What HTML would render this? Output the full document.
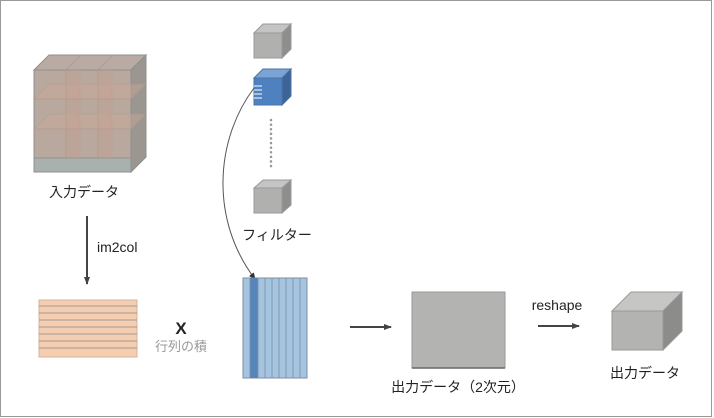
<!DOCTYPE html>
<html><head><meta charset="utf-8"><style>
html,body{margin:0;padding:0;background:#fff}
svg{display:block}
text{font-family:"Liberation Sans","Noto Sans CJK JP",sans-serif;fill:#222}
</style></head><body>
<svg width="714" height="418" viewBox="0 0 714 418">
<defs>
<marker id="ah" markerWidth="8" markerHeight="8" refX="7" refY="4" orient="auto" markerUnits="userSpaceOnUse"><path d="M0,1 L8,4 L0,7 Z" fill="#444"/></marker>
<marker id="ah2" markerWidth="7" markerHeight="7" refX="6" refY="3.5" orient="auto" markerUnits="userSpaceOnUse"><path d="M0,0.5 L7,3.5 L0,6.5 Z" fill="#333"/></marker>
</defs>
<rect x="0.5" y="0.5" width="711" height="416" fill="#fff" stroke="#999"/>

<g>
<polygon points="34,70 49,55 146,55 131,70" fill="#b9aba3" stroke="#8f8f8f"/>
<polygon points="131,70 146,55 146,157 131,172" fill="#9c9690" stroke="#8f8f8f"/>
<rect x="34" y="70" width="97" height="102" fill="#b8a89e" stroke="#8f8f8f"/>
<rect x="34" y="158" width="97" height="14" fill="#a9b1ae" stroke="#8f8f8f"/>
<g stroke="#b49a8e" fill="none" opacity="0.9">
<line x1="66" y1="70" x2="66" y2="158"/><line x1="98" y1="70" x2="98" y2="158"/>
<line x1="34" y1="99" x2="131" y2="99"/><line x1="34" y1="129" x2="131" y2="129"/>
<line x1="81" y1="55" x2="66" y2="70"/><line x1="113" y1="55" x2="98" y2="70"/>
<polygon points="34,99 49,84 146,84 131,99" fill="#c9a898" opacity="0.5"/>
<polygon points="34,129 49,114 146,114 131,129" fill="#c9a898" opacity="0.5"/>
<rect x="66" y="70" width="14" height="88" fill="#c79f8c" opacity="0.35"/>
<rect x="98" y="70" width="14" height="88" fill="#c79f8c" opacity="0.35"/>
</g>
</g>
<text x="84" y="197" font-size="14" text-anchor="middle">入力データ</text>

<line x1="87" y1="216" x2="87" y2="284" stroke="#444" stroke-width="2" marker-end="url(#ah)"/>
<text x="97" y="252" font-size="14">im2col</text>

<g>
<rect x="39" y="300" width="98" height="57" fill="#f5cdb1" stroke="#d7b39a"/>
<g stroke="#8a8a8a" stroke-width="0.8">
<line x1="39" y1="306" x2="137" y2="306"/><line x1="39" y1="313" x2="137" y2="313"/><line x1="39" y1="320" x2="137" y2="320"/><line x1="39" y1="327" x2="137" y2="327"/><line x1="39" y1="334" x2="137" y2="334"/><line x1="39" y1="341" x2="137" y2="341"/><line x1="39" y1="348" x2="137" y2="348"/>
</g></g>
<text x="181" y="334" font-size="17" font-weight="bold" text-anchor="middle">X</text>
<text x="181" y="351" font-size="13" text-anchor="middle" style="fill:#999">行列の積</text>

<g>
<polygon points="254,33 263,24 291,24 282,33" fill="#c4c4c2" stroke="#999"/>
<polygon points="282,33 291,24 291,49 282,58" fill="#8e8e8e" stroke="#999"/>
<rect x="254" y="33" width="28" height="25" fill="#b0b1af" stroke="#999"/>
</g>
<g>
<polygon points="254,78 263,69 291,69 282,78" fill="#79a4d4" stroke="#4a73a5"/>
<polygon points="282,78 291,69 291,96 282,105" fill="#3d6496" stroke="#4a73a5"/>
<rect x="254" y="78" width="28" height="27" fill="#4f80bf" stroke="#4a73a5"/>
<g stroke="#fff" stroke-width="1"><line x1="254" y1="86" x2="262" y2="86"/><line x1="254" y1="90" x2="262" y2="90"/><line x1="254" y1="94" x2="262" y2="94"/><line x1="254" y1="98" x2="262" y2="98"/></g>
</g>
<line x1="271" y1="120" x2="271" y2="168" stroke="#999" stroke-width="2.5" stroke-dasharray="0.1 4.5" stroke-linecap="round"/>
<g>
<polygon points="254,188 263,180 291,180 282,188" fill="#c4c4c2" stroke="#999"/>
<polygon points="282,188 291,180 291,205 282,213" fill="#8e8e8e" stroke="#999"/>
<rect x="254" y="188" width="28" height="25" fill="#b0b1af" stroke="#999"/>
</g>
<text x="277" y="240" font-size="14" text-anchor="middle">フィルター</text>
<path d="M254,88 C215,140 210,220 255,279" fill="none" stroke="#555" stroke-width="1" marker-end="url(#ah2)"/>

<g>
<rect x="243" y="278" width="64" height="100" fill="#a5c4e0" stroke="#7d8fa3"/>
<rect x="250" y="278" width="8" height="100" fill="#5685ba"/>
<g stroke="#7d8fa3" stroke-width="0.8">
<line x1="250" y1="278" x2="250" y2="378"/><line x1="258" y1="278" x2="258" y2="378"/><line x1="265" y1="278" x2="265" y2="378"/><line x1="272" y1="278" x2="272" y2="378"/><line x1="279" y1="278" x2="279" y2="378"/><line x1="286" y1="278" x2="286" y2="378"/><line x1="293" y1="278" x2="293" y2="378"/><line x1="300" y1="278" x2="300" y2="378"/>
</g></g>

<line x1="350" y1="327" x2="391" y2="327" stroke="#444" stroke-width="2" marker-end="url(#ah)"/>
<rect x="412" y="292" width="93" height="76" fill="#b3b4b2" stroke="#999"/>
<line x1="412" y1="368" x2="505" y2="368" stroke="#666" stroke-width="1.5"/>
<text x="458" y="392" font-size="14" text-anchor="middle">出力データ（2次元）</text>

<text x="557" y="310" font-size="14" text-anchor="middle">reshape</text>
<line x1="538" y1="326" x2="579" y2="326" stroke="#444" stroke-width="2" marker-end="url(#ah)"/>

<g>
<polygon points="612,311 631,292 682,292 663,311" fill="#c6c6c4" stroke="#999"/>
<polygon points="663,311 682,292 682,331 663,350" fill="#8c8c8a" stroke="#999"/>
<rect x="612" y="311" width="51" height="39" fill="#b3b4b2" stroke="#999"/>
</g>
<text x="645" y="378" font-size="14" text-anchor="middle">出力データ</text>
</svg>
</body></html>
